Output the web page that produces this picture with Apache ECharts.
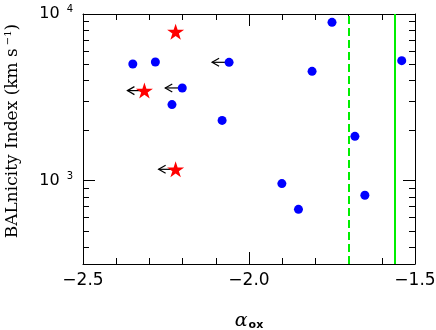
<!DOCTYPE html>
<html>
<head>
<meta charset="utf-8">
<script src="https://cdn.jsdelivr.net/npm/echarts@6/dist/echarts.min.js"></script>
<style>
  html, body { margin: 0; padding: 0; background: #fff; }
  #chart { width: 436px; height: 330px; }
</style>
</head>
<body>
<div id="chart"></div>
<script>
// blue dots: alpha_ox and BALnicity index
const blueAox = [-2.350, -2.282, -2.201, -2.232, -2.060, -2.081, -1.810, -1.750, -1.540, -1.681, -1.901, -1.851, -1.651];
const blueBI  = [5010, 5150, 3600, 2860, 5130, 2300, 4530, 8910, 5250, 1845, 960, 673, 817];
const blueLimit = [false, false, true, false, true, false, false, false, false, false, false, false, false];

// red stars
const starAox = [-2.221, -2.315, -2.221];
const starBI  = [7830, 3470, 1170];
const starLimit = [false, true, true];

// vertical reference lines
const dashedAox = -1.70;
const solidAox = -1.56;

// axes
const yMajor = [1000, 10000];
const yMinor = [400, 500, 600, 700, 800, 900, 2000, 3000, 4000, 5000, 6000, 7000, 8000, 9000];
const yMin = Math.pow(10, 2.5);
const yMax = 10000;

const starPath = 'path://M100,0 L122.45,69.1 L195.1,69.1 L136.3,111.8 L158.8,180.9 L100,138.2 L41.2,180.9 L63.7,111.8 L4.9,69.1 L77.55,69.1 Z';

const limitPts = [];
blueAox.forEach((x, i) => { if (blueLimit[i]) limitPts.push([x, blueBI[i]]); });
starAox.forEach((x, i) => { if (starLimit[i]) limitPts.push([x, starBI[i]]); });

const myChart = echarts.init(document.getElementById('chart'));

const tickFont = 'DejaVu Sans';

function yAxisCfg(pos, values, len, showLine, showLabel) {
  return {
    type: 'log',
    position: pos,
    min: yMin,
    max: yMax,
    axisLine: { show: showLine, lineStyle: { color: '#000', width: 1 } },
    axisTick: { show: true, inside: true, length: len, customValues: values, lineStyle: { color: '#000', width: 1 } },
    axisLabel: {
      show: showLabel,
      customValues: yMajor,
      margin: 10,
      formatter: function (v) {
        const e = Math.round(Math.log10(v));
        return '{b|10}{s|' + e + '}';
      },
      rich: {
        b: { fontSize: 16, fontFamily: tickFont, color: '#000' },
        s: { fontSize: 10, fontFamily: tickFont, color: '#000', padding: [0, 0, 9, 7] }
      }
    },
    splitLine: { show: false },
    minorTick: { show: false }
  };
}

function xAxisCfg(pos, showLabel) {
  return {
    type: 'value',
    position: pos,
    min: -2.5,
    max: -1.5,
    interval: 0.5,
    axisLine: { show: true, onZero: false, lineStyle: { color: '#000', width: 1 } },
    axisTick: { show: true, inside: true, length: 12, lineStyle: { color: '#000' } },
    minorTick: { show: true, splitNumber: 5, length: 6, lineStyle: { color: '#000' } },
    axisLabel: {
      show: showLabel,
      margin: 8,
      fontSize: 17,
      fontFamily: tickFont,
      color: '#000',
      formatter: function (v) { return v.toFixed(1).replace('-', '\u2212'); }
    },
    splitLine: { show: false },
    name: showLabel ? '{a|\u03b1}{o|ox}' : '',
    nameLocation: 'middle',
    nameGap: 48,
    nameTextStyle: {
      rich: {
        a: { fontSize: 19, fontStyle: 'italic', fontFamily: 'DejaVu Serif', color: '#000' },
        o: { fontSize: 11, fontWeight: 'bold', fontFamily: 'DejaVu Sans', color: '#000', padding: [8, 0, 0, 1] }
      }
    }
  };
}

const option = {
  animation: false,
  grid: { left: 83, right: 21, top: 14, bottom: 66, containLabel: false, outerBoundsMode: 'none' },
  xAxis: [xAxisCfg('bottom', true), xAxisCfg('top', false)],
  yAxis: [
    yAxisCfg('left', yMajor, 12, true, true),
    yAxisCfg('left', yMinor, 6, false, false),
    yAxisCfg('right', yMajor, 12, true, false),
    yAxisCfg('right', yMinor, 6, false, false)
  ],
  graphic: [{
    type: 'text',
    x: 13,
    y: 131,
    rotation: Math.PI / 2,
    style: {
      text: '{t|BALnicity Index (km s}{s|\u22121}{t|)}',
      align: 'center',
      verticalAlign: 'middle',
      rich: {
        t: { fontSize: 17, fontFamily: 'DejaVu Serif', fill: '#000', color: '#000' },
        s: { fontSize: 10, fontFamily: 'DejaVu Serif', fill: '#000', color: '#000', padding: [0, 0, 10, 3] }
      }
    }
  }],
  series: [
    {
      name: 'lines',
      type: 'line',
      data: [],
      markLine: {
        silent: true,
        symbol: 'none',
        label: { show: false },
        data: [
          { xAxis: dashedAox, lineStyle: { type: [8, 4], color: '#00ee00', width: 2 } },
          { xAxis: solidAox, lineStyle: { type: 'solid', color: '#00ee00', width: 2 } }
        ]
      }
    },
    {
      name: 'limits',
      type: 'custom',
      data: limitPts,
      renderItem: function (params, api) {
        const p = api.coord([api.value(0), api.value(1)]);
        const x0 = p[0] - 3;
        const tip = x0 - 14;
        return {
          type: 'group',
          children: [
            { type: 'line', shape: { x1: x0, y1: p[1], x2: tip, y2: p[1] }, style: { stroke: '#000', lineWidth: 1.2 } },
            { type: 'polyline', shape: { points: [[tip + 7, p[1] - 4], [tip, p[1]], [tip + 7, p[1] + 4]] }, style: { stroke: '#000', lineWidth: 1.2, fill: null } }
          ]
        };
      },
      z: 2
    },
    {
      name: 'blue',
      type: 'scatter',
      data: blueAox.map((x, i) => [x, blueBI[i]]),
      symbol: 'circle',
      symbolSize: 9,
      itemStyle: { color: '#0000ff', opacity: 1 },
      z: 3
    },
    {
      name: 'stars',
      type: 'scatter',
      data: starAox.map((x, i) => [x, starBI[i]]),
      symbol: starPath,
      symbolSize: [17, 16],
      itemStyle: { color: '#ff0000', opacity: 1 },
      z: 3
    }
  ]
};

myChart.setOption(option);
</script>
</body>
</html>
